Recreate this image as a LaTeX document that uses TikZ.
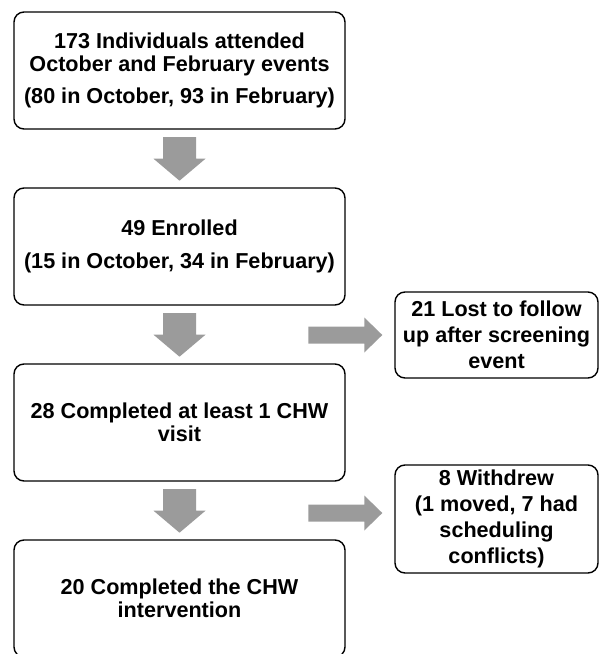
\documentclass[tikz,border=0pt]{standalone}
\usepackage{fontspec}
\setmainfont{Liberation Sans}
\usetikzlibrary{calc}
\definecolor{arrowgray}{RGB}{155,155,155}
\tikzset{
  mainbox/.style={draw=black, line width=1.4pt, rounded corners=10pt, fill=white,
    minimum width=331pt, minimum height=117pt, align=center, inner sep=0pt,
    font=\fontsize{21.6}{23}\selectfont\bfseries},
  sidebox/.style={draw=black, line width=1.4pt, rounded corners=10pt, fill=white,
    minimum width=203pt, align=center, inner sep=0pt,
    font=\fontsize{21.6}{26}\selectfont\bfseries},
  blockarrow/.style={fill=arrowgray, draw=none}
}
\begin{document}
\begin{tikzpicture}[x=1pt,y=-1pt]
\useasboundingbox (0,0) rectangle (599,654);
\clip (0,0) rectangle (599,654);
\node[mainbox] (b1) at (179.5,70.5) {173 Individuals attended\\October and February events\\[9pt](80 in October, 93 in February)};
\node[mainbox] (b2) at (179.5,246.5) {49 Enrolled\\[10pt](15 in October, 34 in February)};
\node[mainbox] (b3) at (179.5,422.5) {28 Completed at least 1 CHW\\visit};
\node[mainbox] (b4) at (179.5,598.5) {20 Completed the CHW\\intervention};
\node[sidebox, minimum height=86pt] (sa) at (496.5,335) {21 Lost to follow\\up after screening\\event};
\node[sidebox, minimum height=108pt] (sb) at (496.5,519) {8 Withdrew\\(1 moved, 7 had\\scheduling\\conflicts)};
% down arrows
\foreach \s in {b1,b2,b3}{
  \fill[blockarrow] ($(\s.south)+(-16.5,7.5)$) -- ++(33,0) -- ++(0,21.5) -- ++(9.5,0)
    -- ($(\s.south)+(0,51)$) -- ($(\s.south)+(-26,29)$) -- ++(9.5,0) -- cycle;
}
% right arrows
\coordinate (ta) at ($(sa.west)+(-12,0)$);
\coordinate (tb) at ($(sb.west)+(-12,-6)$);
\foreach \t in {ta,tb}{
  \fill[blockarrow] ($(\t)+(-74,-8.5)$) -- ++(56,0) -- ++(0,-9) -- (\t)
    -- ($(\t)+(-18,17.5)$) -- ++(0,-9) -- ++(-56,0) -- cycle;
}
\end{tikzpicture}
\end{document}
